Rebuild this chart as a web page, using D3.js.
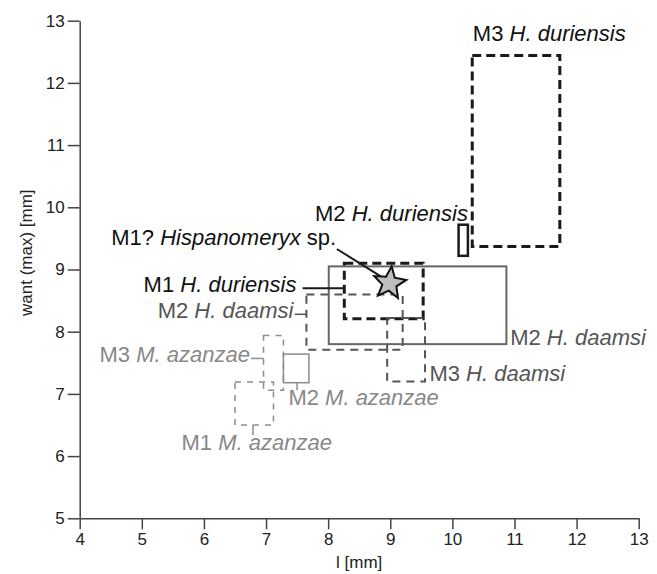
<!DOCTYPE html>
<html>
<head>
<meta charset="utf-8">
<script src="https://cdn.jsdelivr.net/npm/d3@7"></script>
<style>
  body { margin: 0; background: #fff; }
  svg { font-family: 'Liberation Sans', Arial, sans-serif; }
  .domain, .tick line { stroke: #444; stroke-width: 1.5; }
  .lab { font-size: 22px; }
</style>
</head>
<body>
<svg width="657" height="574"></svg>
<script>
// ranges of l and want (max) per tooth, in mm
var boxNames = ['M3 H. duriensis', 'M2 H. duriensis', 'M1 H. duriensis', 'M2 H. daamsi', 'M2 H. daamsi (b)', 'M3 H. daamsi', 'M2 M. azanzae', 'M3 M. azanzae', 'M1 M. azanzae'];
var lMin = [10.32, 10.10, 8.26, 8.01, 7.65, 8.95, 7.28, 6.96, 6.50];
var lMax = [11.73, 10.25, 9.53, 10.87, 9.20, 9.56, 7.69, 7.28, 7.12];
var wMin = [9.37, 9.22, 8.21, 7.80, 7.71, 7.20, 7.18, 7.06, 6.50];
var wMax = [12.44, 9.72, 9.10, 9.05, 8.60, 8.22, 7.64, 7.94, 7.19];
var boxGroup = ['dur', 'durSolid', 'dur', 'daaSolid', 'daa', 'daa', 'azaSolid', 'aza', 'aza'];

// the Hispanomeryx specimen
var star = { l: 8.99, w: 8.78 };

var xTicks = [4, 5, 6, 7, 8, 9, 10, 11, 12, 13];
var yTicks = [5, 6, 7, 8, 9, 10, 11, 12, 13];

// labels: tooth, genus/species part, anchor in data units
var labels = [
    { tooth: 'M3 ', sp: 'H. duriensis', tail: '', l: 10.33, w: 12.68, anchor: 'start', g: 'dur' },
    { tooth: 'M2 ', sp: 'H. duriensis', tail: '', l: 10.25, w: 9.78, anchor: 'end', g: 'dur' },
    { tooth: 'M1? ', sp: 'Hispanomeryx', tail: ' sp.', l: 8.13, w: 9.39, anchor: 'end', g: 'dur' },
    { tooth: 'M1 ', sp: 'H. duriensis', tail: '', l: 7.49, w: 8.64, anchor: 'end', g: 'dur' },
    { tooth: 'M2 ', sp: 'H. daamsi', tail: '', l: 7.44, w: 8.22, anchor: 'end', g: 'daa' },
    { tooth: 'M3 ', sp: 'M. azanzae', tail: '', l: 6.74, w: 7.52, anchor: 'end', g: 'aza' },
    { tooth: 'M2 ', sp: 'M. azanzae', tail: '', l: 7.36, w: 6.82, anchor: 'start', g: 'aza' },
    { tooth: 'M1 ', sp: 'M. azanzae', tail: '', l: 5.64, w: 6.10, anchor: 'start', g: 'aza' },
    { tooth: 'M2 ', sp: 'H. daamsi', tail: '', l: 10.93, w: 7.79, anchor: 'start', g: 'daa' },
    { tooth: 'M3 ', sp: 'H. daamsi', tail: '', l: 9.63, w: 7.20, anchor: 'start', g: 'daa' }
];

// leader lines [l1, w1, l2, w2]
var leaders = [
    { p: [8.14, 9.33, 8.86, 8.88], g: 'dur' },
    { p: [7.59, 8.70, 8.26, 8.70], g: 'dur' },
    { p: [7.46, 8.28, 7.65, 8.28], g: 'daa' },
    { p: [6.76, 7.57, 6.96, 7.57], g: 'aza' },
    { p: [7.50, 7.18, 7.50, 7.06], g: 'aza' },
    { p: [6.79, 6.50, 6.79, 6.34], g: 'aza' }
];

var styles = {
    dur: { color: '#1a1a1a', width: 3, dash: '9,5' },
    durSolid: { color: '#1a1a1a', width: 2.5, dash: null },
    daa: { color: '#555', width: 2, dash: '8,6' },
    daaSolid: { color: '#666', width: 2, dash: null },
    aza: { color: '#8c8c8c', width: 1.5, dash: '6,6' },
    azaSolid: { color: '#8c8c8c', width: 1.5, dash: null }
};
var textColor = { dur: '#111', daa: '#555', aza: '#888' };

var svg = d3.select('svg');

var x = d3.scaleLinear().domain([4, 13]).range([79.7, 638.7]),
    y = d3.scaleLinear().domain([5, 13]).range([518.3, 20.7]);

svg.append('g')
    .attr('transform', 'translate(0,' + y(5) + ')')
    .call(d3.axisBottom(x).tickValues(xTicks).tickSize(11).tickPadding(4).tickSizeOuter(0));

svg.append('g')
    .attr('transform', 'translate(' + x(4) + ',0)')
    .call(d3.axisLeft(y).tickValues(yTicks).tickSize(12).tickPadding(3).tickSizeOuter(0));

svg.selectAll('.tick text')
    .style('font-size', '17px')
    .style('fill', '#222');

svg.append('text')
    .attr('x', x(8.5))
    .attr('y', 568)
    .attr('text-anchor', 'middle')
    .style('font-size', '17px')
    .style('fill', '#222')
    .text('l [mm]');

svg.append('text')
    .attr('transform', 'translate(32,' + y(9.27) + ') rotate(-90)')
    .attr('text-anchor', 'middle')
    .style('font-size', '17px')
    .style('fill', '#222')
    .text('want (max) [mm]');

// boxes
svg.append('g')
    .selectAll('rect')
    .data(boxNames)
    .enter()
    .append('rect')
    .attr('x', function (d, i) { return x(lMin[i]); })
    .attr('y', function (d, i) { return y(wMax[i]); })
    .attr('width', function (d, i) { return x(lMax[i]) - x(lMin[i]); })
    .attr('height', function (d, i) { return y(wMin[i]) - y(wMax[i]); })
    .attr('fill', 'none')
    .attr('stroke', function (d, i) { return styles[boxGroup[i]].color; })
    .attr('stroke-width', function (d, i) { return styles[boxGroup[i]].width; })
    .attr('stroke-dasharray', function (d, i) { return styles[boxGroup[i]].dash; });

// leaders
svg.append('g')
    .selectAll('line')
    .data(leaders)
    .enter()
    .append('line')
    .attr('x1', function (d) { return x(d.p[0]); })
    .attr('y1', function (d) { return y(d.p[1]); })
    .attr('x2', function (d) { return x(d.p[2]); })
    .attr('y2', function (d) { return y(d.p[3]); })
    .attr('stroke', function (d) { return styles[d.g].color; })
    .attr('stroke-width', function (d) { return d.g == 'dur' ? 2 : 1.5; });

// star
var starPts = d3.range(10).map(function (i) {
    var a = -Math.PI / 2 + i * Math.PI / 5 + 0.12,
        r = i % 2 ? 7.5 : 17;
    return [x(star.l) + r * Math.cos(a), y(star.w) + r * Math.sin(a)];
});
svg.append('path')
    .attr('d', d3.line()(starPts) + 'Z')
    .attr('fill', '#bdbdbd')
    .attr('stroke', '#111')
    .attr('stroke-width', 2)
    .attr('stroke-linejoin', 'miter');

// labels
var lab = svg.append('g')
    .selectAll('text')
    .data(labels)
    .enter()
    .append('text')
    .attr('class', 'lab')
    .attr('x', function (d) { return x(d.l); })
    .attr('y', function (d) { return y(d.w); })
    .attr('text-anchor', function (d) { return d.anchor; })
    .style('fill', function (d) { return textColor[d.g]; });

lab.append('tspan').text(function (d) { return d.tooth; });
lab.append('tspan').style('font-style', 'italic').text(function (d) { return d.sp; });
lab.append('tspan').text(function (d) { return d.tail; });
</script>
</body>
</html>
